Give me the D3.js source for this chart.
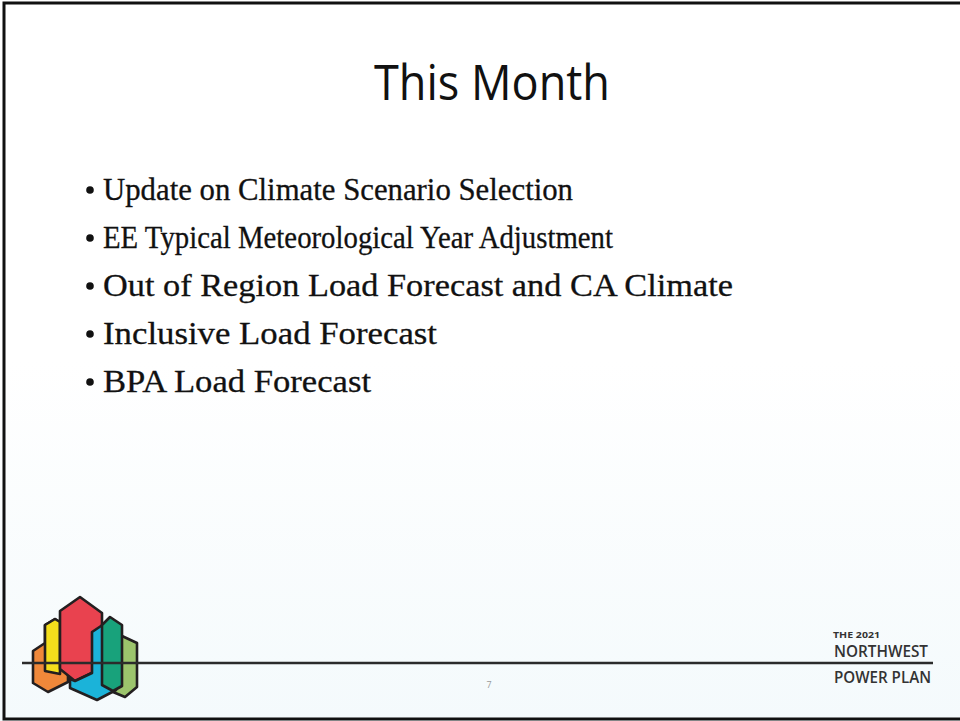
<!DOCTYPE html>
<html>
<head>
<meta charset="utf-8">
<script src="https://cdn.jsdelivr.net/npm/d3@7"></script>
<style>
  body { margin: 0; background: #fff; }
  svg { display: block; }
</style>
</head>
<body>
<script>
const title = 'This Month';
const bullets = [
  'Update on Climate Scenario Selection',
  'EE Typical Meteorological Year Adjustment',
  'Out of Region Load Forecast and CA Climate',
  'Inclusive Load Forecast',
  'BPA Load Forecast'
];
// measured line widths of each bullet (px)
const bulletWidths = [470, 510, 630, 334, 268];
const brandLines = ['THE 2021', 'NORTHWEST', 'POWER PLAN'];
const pageNumber = '7';

// logo pieces, back to front
const logoColors = ['#f0883a', '#f4df1c', '#9cc46c', '#e9424f', '#1bb3d9', '#18a27b'];

const width = 960, height = 721;

const svg = d3.select('body').append('svg')
  .attr('width', width)
  .attr('height', height);

const defs = svg.append('defs');
const grad = defs.append('linearGradient')
  .attr('id', 'bg').attr('x1', 0).attr('y1', 0).attr('x2', 0).attr('y2', 1);
grad.append('stop').attr('offset', '0.5').attr('stop-color', '#ffffff');
grad.append('stop').attr('offset', '1').attr('stop-color', '#f4fafc');

svg.append('rect')
  .attr('width', width).attr('height', height)
  .attr('fill', 'url(#bg)');

// slide frame
svg.append('rect')
  .attr('x', 4).attr('y', 3)
  .attr('width', width + 20).attr('height', 716)
  .attr('fill', 'none')
  .attr('stroke', '#111')
  .attr('stroke-width', 3);

// title
svg.append('text')
  .attr('x', 492).attr('y', 100)
  .attr('text-anchor', 'middle')
  .attr('font-family', '"Open Sans", sans-serif')
  .attr('font-size', 50)
  .attr('textLength', 236)
  .attr('lengthAdjust', 'spacingAndGlyphs')
  .attr('fill', '#111')
  .text(title);

// bullets
const y = d3.scalePoint()
  .domain(bullets)
  .range([200, 392]);

const rows = svg.append('g').selectAll('g')
  .data(bullets)
  .join('g')
  .attr('transform', d => `translate(0, ${y(d)})`);

rows.append('circle')
  .attr('cx', 90).attr('cy', -10).attr('r', 3.8)
  .attr('fill', '#111');

rows.append('text')
  .attr('x', 103)
  .attr('font-family', '"Liberation Serif", "DejaVu Serif", serif')
  .attr('font-size', 32)
  .attr('textLength', (d, i) => bulletWidths[i])
  .attr('lengthAdjust', 'spacingAndGlyphs')
  .attr('fill', '#111')
  .attr('stroke', '#111')
  .attr('stroke-width', 0.3)
  .text(d => d);

// logo
const logo = svg.append('g')
  .attr('stroke', '#231f20')
  .attr('stroke-width', 2.6)
  .attr('stroke-linejoin', 'round');

const shapes = [
  [[33, 651], [45, 643], [45, 625], [55, 619], [68, 627], [68, 682], [48, 692], [33, 683]],
  [[45, 625], [55, 619], [60, 622], [60, 674], [45, 671]],
  [[115, 631], [122, 636], [137, 643], [137, 687], [125, 697], [113, 692]],
  [[60, 611], [80, 597], [102, 613], [102, 668], [75, 681], [60, 669]],
  [[92, 632], [104, 624], [116, 631], [116, 690], [97, 700], [70, 688], [70, 679], [75, 681], [92, 673]],
  [[102, 625], [110, 617], [122, 625], [122, 686], [113, 691], [102, 685]]
];

logo.selectAll('path')
  .data(shapes)
  .join('path')
  .attr('d', d => d3.line()(d) + 'Z')
  .attr('fill', (d, i) => logoColors[i]);

// footer rule
svg.append('line')
  .attr('x1', 22).attr('x2', 933)
  .attr('y1', 663).attr('y2', 663)
  .attr('stroke', '#2b2b2b')
  .attr('stroke-width', 2.5);

// brand text
const brand = svg.append('g')
  .attr('font-family', '"Open Sans", sans-serif')
  .attr('fill', '#333');

brand.append('text')
  .attr('x', 833).attr('y', 638)
  .attr('font-size', 9).attr('font-weight', 700)
  .attr('textLength', 47).attr('lengthAdjust', 'spacingAndGlyphs')
  .text(brandLines[0]);

brand.append('text')
  .attr('x', 834).attr('y', 657)
  .attr('font-size', 16).attr('font-weight', 600)
  .attr('textLength', 94).attr('lengthAdjust', 'spacingAndGlyphs')
  .text(brandLines[1]);

brand.append('text')
  .attr('x', 834).attr('y', 683)
  .attr('font-size', 16).attr('font-weight', 600)
  .attr('textLength', 97).attr('lengthAdjust', 'spacingAndGlyphs')
  .text(brandLines[2]);

// page number
svg.append('text')
  .attr('x', 489).attr('y', 688)
  .attr('text-anchor', 'middle')
  .attr('font-family', '"Open Sans", sans-serif')
  .attr('font-size', 9)
  .attr('fill', '#9a9a9a')
  .text(pageNumber);
</script>
</body>
</html>
